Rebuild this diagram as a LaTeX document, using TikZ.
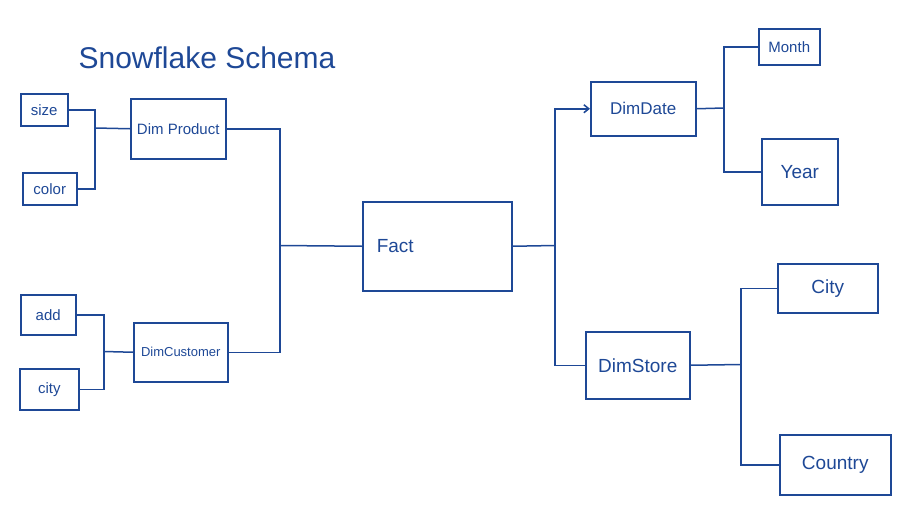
\documentclass[tikz,border=0pt]{standalone}
\usepackage{fontspec}
\setmainfont{Liberation Sans}
\usetikzlibrary{positioning, arrows.meta}
\definecolor{InkBlue}{RGB}{30, 72, 150}

\tikzset{
  box/.style={draw=InkBlue, line width=1.5pt, text=InkBlue, anchor=north west,
    inner sep=3pt, font=\fontsize{15}{17}\selectfont},
  bigbox/.style={box, font=\fontsize{19}{21}\selectfont},
  link/.style={draw=InkBlue, line width=1.5pt}
}

\begin{document}
\begin{tikzpicture}[x=1pt, y=-1pt]
    \useasboundingbox (0,0) rectangle (924,525);

    % Titel
    \node[text=InkBlue, font=\fontsize{30}{32}\selectfont] (title) at (207,58) {Snowflake Schema};

    % Produkt
    \node[box, minimum width=47pt, minimum height=32pt] (size) at (20,93) {size};
    \node[box, minimum width=54pt, minimum height=32pt] (color) at (22,172) {color};
    \node[box, minimum width=95pt, minimum height=60pt] (product) at (130,98) {Dim Product};
    \coordinate (pbus) at (95,128);
    \draw[link] (size.east) -| (pbus) |- (color.east);
    \draw[link] (pbus) -- (product.west);

    % Kunde
    \node[box, minimum width=55pt, minimum height=40pt] (addr) at (20,294) {add};
    \node[box, minimum width=59pt, minimum height=41pt] (city) at (19,368) {city};
    \node[box, minimum width=94pt, minimum height=59pt, font=\fontsize{13}{15}\selectfont] (customer) at (133,322) {DimCustomer};
    \coordinate (cbus) at (104,351.5);
    \draw[link] (addr.east) -| (cbus) |- (city.east);
    \draw[link] (cbus) -- (customer.west);

    % Fakt
    \node[bigbox, minimum width=149pt, minimum height=89pt, text width=137pt, align=left] (fact) at (362,201) {\hspace*{8pt}Fact};
    \coordinate (fbus) at (280,245.5);
    \draw[link] (product.east) -| (fbus) |- (customer.east);
    \draw[link] (fbus) -- (fact.west);

    % Datum und Laden
    \node[box, minimum width=105pt, minimum height=54pt, font=\fontsize{17}{19}\selectfont] (date) at (590,81) {DimDate};
    \node[bigbox, minimum width=104pt, minimum height=67pt] (store) at (585,331) {DimStore};
    \coordinate (dbus) at (555,245.5);
    \draw[link] (fact.east) -- (dbus);
    \draw[link, -{Straight Barb[length=5pt, width=8pt]}] (dbus) |- (date.west);
    \draw[link] (dbus) |- (store.west);

    % Monat, Jahr
    \node[box, minimum width=61pt, minimum height=36pt] (month) at (758,28) {Month};
    \node[bigbox, minimum width=76pt, minimum height=66pt] (year) at (761,138) {Year};
    \coordinate (tbus) at (724,108);
    \draw[link] (date.east) -- (tbus);
    \draw[link] (month.west) -| (tbus) |- (year.west);

    % Stadt, Land
    \node[bigbox, minimum width=100pt, minimum height=49pt] (town) at (777,263) {City};
    \node[bigbox, minimum width=111pt, minimum height=60pt] (country) at (779,434) {Country};
    \coordinate (sbus) at (741,364.5);
    \draw[link] (store.east) -- (sbus);
    \draw[link] (town.west) -| (sbus) |- (country.west);
\end{tikzpicture}
\end{document}
